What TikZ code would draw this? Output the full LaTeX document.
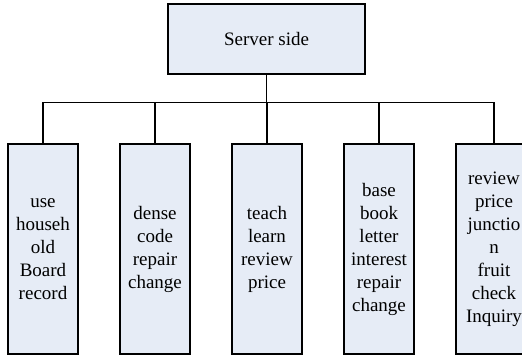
\documentclass[tikz,border=0pt]{standalone}
\usepackage{fontspec}
\setmainfont{Liberation Serif}
\usepackage{xcolor}
\definecolor{boxfill}{RGB}{230,236,246}
\tikzset{
  rootbox/.style={draw, line width=1.2pt, fill=boxfill, minimum width=197pt, minimum height=70pt, inner sep=0pt},
  leafbox/.style={draw, line width=1.2pt, fill=boxfill, minimum width=70pt, minimum height=210pt, inner sep=0pt, align=center},
  link/.style={line width=1.2pt}
}

\begin{document}
\begin{tikzpicture}[x=1pt, y=1pt, font=\fontsize{19}{23}\selectfont]
    \useasboundingbox (0,0) rectangle (522,357);
    \clip (0,0) rectangle (522,357);
    \node[rootbox] (srv) at (266.5,318) {Server side};
    \coordinate (bus) at (266.5,254.5);
    \node[leafbox] (l1) at (43,108) {use\\househ\\old\\Board\\record};
    \node[leafbox] (l2) at (155,108) {dense\\code\\repair\\change};
    \node[leafbox] (l3) at (267,108) {teach\\learn\\review\\price};
    \node[leafbox] (l4) at (379,108) {base\\book\\letter\\interest\\repair\\change};
    \node[leafbox, minimum width=76pt] (l5) at (494,108) {review\\price\\junctio\\n\\fruit\\check\\Inquiry};
    \draw[link] (srv.south) -- (bus);
    \foreach \n in {l1,l2,l3,l4,l5}
        \draw[link] (bus) -| (\n.north);
\end{tikzpicture}
\end{document}
